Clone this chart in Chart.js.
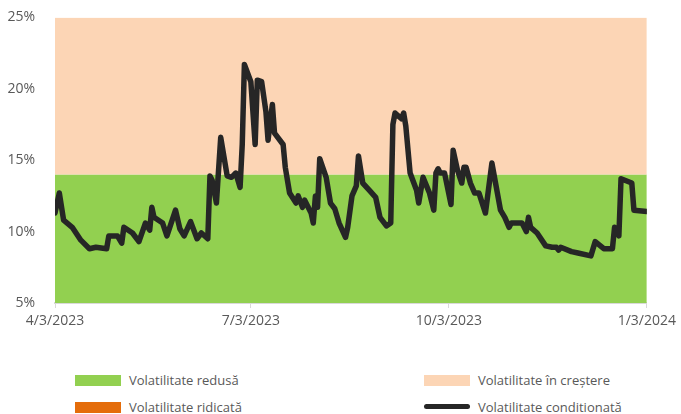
<!DOCTYPE html>
<html>
<head>
<meta charset="utf-8">
<script src="https://cdn.jsdelivr.net/npm/chart.js@4.4.1/dist/chart.umd.min.js"></script>
<style>
  html, body { margin: 0; padding: 0; background: #fff; }
  #wrap { position: relative; width: 681px; height: 414px; font-family: 'Open Sans', sans-serif; overflow: hidden; }
  #chart { position: absolute; left: 0; top: -3px; }
  .item { position: absolute; font-size: 13px; color: #595959; line-height: 16px; white-space: nowrap; }
  .sw { display: inline-block; width: 46px; height: 11px; vertical-align: -1px; margin-right: 8px; }
  .sw.line { height: 5px; border-radius: 3px; vertical-align: 3px; }
</style>
</head>
<body>
<div id="wrap">
  <canvas id="chart" width="681" height="343"></canvas>
  <div class="item" style="left:75px; top:372px;"><span class="sw" style="background:#92d050"></span>Volatilitate redusă</div>
  <div class="item" style="left:424px; top:372px;"><span class="sw" style="background:#fcd5b5"></span>Volatilitate în creștere</div>
  <div class="item" style="left:75px; top:399px;"><span class="sw" style="background:#e46c0a"></span>Volatilitate ridicată</div>
  <div class="item" style="left:424px; top:399px;"><span class="sw line" style="background:#262626"></span>Volatilitate conditionată</div>
</div>
<script>
// days since 4/3/2023 and conditional volatility (%)
const days = [0, 2, 4, 8, 12, 16, 19, 24, 25, 29, 31, 32, 36, 39, 42, 44, 45, 46, 50, 52,
  56, 58, 60, 63, 66, 68, 71, 72, 73, 75, 77, 80, 82, 84, 86, 87, 88, 91, 93, 94,
  96, 98, 99, 101, 102, 106, 107, 109, 112, 113, 115, 116, 119, 120, 121, 122, 123, 126, 128, 130,
  132, 135, 136, 138, 140, 141, 143, 146, 149, 151, 154, 156, 157, 158, 161, 162, 163, 165, 168, 169,
  171, 174, 176, 177, 178, 179, 181, 184, 185, 187, 189, 190, 191, 193, 195, 197, 200, 203, 207, 209,
  211, 212, 217, 219, 220, 221, 224, 228, 231, 233, 234, 235, 240, 243, 249, 251, 255, 259, 260, 262,
  263, 268, 269, 275];
const volatility = [11.3, 12.7, 10.8, 10.3, 9.4, 8.8, 8.9, 8.8, 9.7, 9.7, 9.2, 10.3, 9.9, 9.3, 10.6, 10.1, 11.7, 11.0, 10.6, 9.7,
  11.5, 10.2, 9.7, 10.7, 9.5, 9.9, 9.5, 13.9, 13.6, 12.0, 16.6, 13.9, 13.8, 14.1, 13.1, 16.1, 21.7, 20.5, 16.1, 20.6,
  20.5, 18.4, 16.4, 18.9, 16.9, 16.1, 14.5, 12.7, 12.0, 12.5, 11.7, 12.2, 11.3, 10.6, 12.5, 11.7, 15.1, 13.8, 12.0, 11.6,
  10.6, 9.6, 10.3, 12.5, 13.2, 15.3, 13.4, 12.9, 12.4, 11.0, 10.4, 10.6, 17.5, 18.3, 17.9, 18.3, 17.4, 14.1, 12.9, 12.0,
  13.8, 12.7, 11.5, 14.1, 14.4, 14.1, 14.1, 11.9, 15.7, 14.3, 13.4, 14.5, 14.5, 13.4, 12.7, 12.7, 11.3, 14.8, 11.5, 11.0,
  10.3, 10.6, 10.6, 10.0, 11.0, 10.3, 9.9, 9.0, 8.9, 8.9, 8.7, 8.9, 8.6, 8.5, 8.3, 9.3, 8.8, 8.8, 10.3, 9.7,
  13.7, 13.4, 11.5, 11.4];

const tickDays = [0, 91, 183, 275];
const tickLabels = ['4/3/2023', '7/3/2023', '10/3/2023', '1/3/2024'];

const lowLimit = 14;   // top of "redusa" band
const riseLimit = 25;  // top of "in crestere" band
const yMin = 5, yMax = 25;

const first = days[0], last = days[days.length - 1];
const band = v => [{ x: first, y: v }, { x: last, y: v }];

new Chart(document.getElementById('chart'), {
  type: 'line',
  data: {
    datasets: [
      {
        label: 'Volatilitate conditionată',
        data: days.map((d, i) => ({ x: d, y: volatility[i] })),
        borderColor: '#262626',
        borderWidth: 5.5,
        borderJoinStyle: 'round',
        borderCapStyle: 'round',
        pointRadius: 0,
        fill: false,
        order: 0
      },
      {
        label: 'Volatilitate redusă',
        data: band(lowLimit),
        borderWidth: 0,
        pointRadius: 0,
        backgroundColor: '#92d050',
        fill: 'start',
        order: 3
      },
      {
        label: 'Volatilitate în creștere',
        data: band(riseLimit),
        borderWidth: 0,
        pointRadius: 0,
        backgroundColor: '#fcd5b5',
        fill: '-1',
        order: 2
      },
      {
        label: 'Volatilitate ridicată',
        data: [],
        backgroundColor: '#e46c0a',
        order: 1
      }
    ]
  },
  options: {
    responsive: false,
    animation: false,
    layout: { padding: { top: 6, right: 0, left: 4, bottom: 0 } },
    plugins: { legend: { display: false }, tooltip: { enabled: false } },
    scales: {
      x: {
        type: 'linear',
        min: first,
        max: last,
        afterBuildTicks: s => { s.ticks = tickDays.map(v => ({ value: v })); },
        afterFit: s => { s.height = 37; },
        grid: { drawOnChartArea: false, color: '#d9d9d9', tickLength: 5, lineWidth: 1 },
        border: { color: '#d9d9d9', width: 2 },
        ticks: {
          autoSkip: false,
          maxRotation: 0,
          padding: 5,
          color: '#595959',
          font: { family: 'Open Sans', size: 14 },
          callback: v => tickLabels[tickDays.indexOf(v)]
        }
      },
      y: {
        min: yMin,
        max: yMax,
        afterFit: s => { s.width = 51; },
        grid: { display: false },
        border: { display: false },
        ticks: {
          stepSize: 5,
          padding: 12,
          color: '#595959',
          font: { family: 'Open Sans', size: 14 },
          callback: v => v + '%'
        }
      }
    }
  }
});
</script>
</body>
</html>
